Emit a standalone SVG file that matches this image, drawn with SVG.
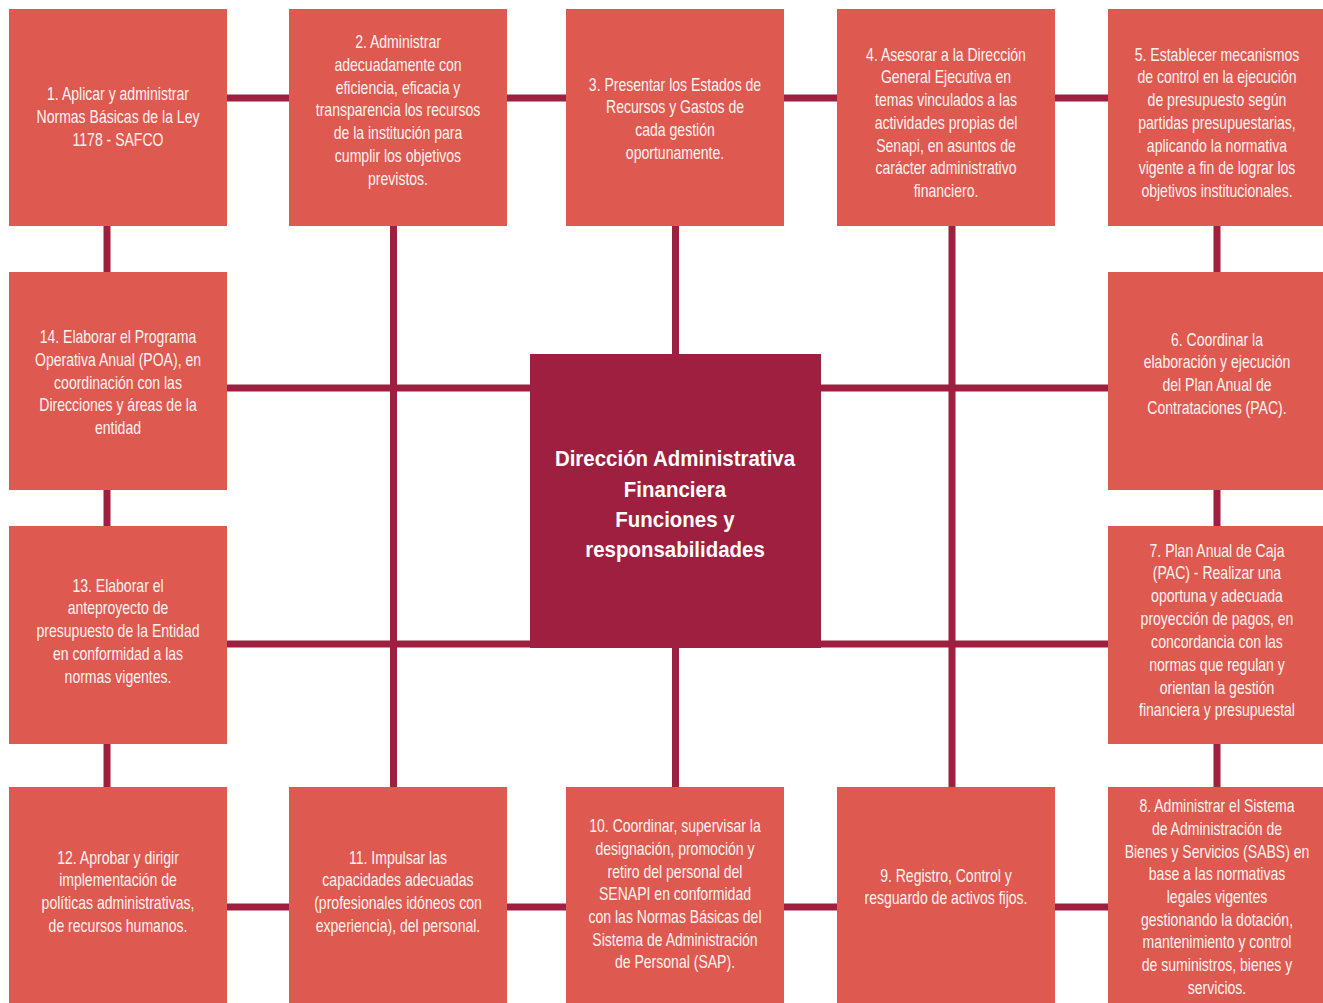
<svg xmlns="http://www.w3.org/2000/svg" width="1323" height="1003" viewBox="0 0 1323 1003">
<style>
.box{fill:#DE5950}
.center{fill:#9E1F3F}
.t{font-family:"Liberation Sans",Arial,sans-serif;font-size:18px;fill:#FFF3F0;text-anchor:middle}
.tc{font-family:"Liberation Sans",Arial,sans-serif;font-size:22px;font-weight:bold;fill:#FFFFFF;text-anchor:middle}
.c{stroke:#9E1F3F;fill:none}
.h{stroke-width:7}
.v{stroke-width:7}
</style>
<rect width="1323" height="1003" fill="#FFFFFF"/>
<g id="connectors" class="c">
<path class="h" d="M227 98H289M507 98H566M784 98H837M1055 98H1108"/>
<path class="h" d="M227 907H289M507 907H566M784 907H837M1055 907H1108"/>
<path class="h" stroke-width="8" d="M227 388H530M821 388H1114"/>
<path class="h" stroke-width="8" d="M227 644H530M821 644H1114"/>
<path class="v" d="M107 225V272M107 490V527M107 743V787"/>
<path class="v" d="M1217 225V272M1217 490V527M1217 743V787"/>
<path class="v" d="M393.5 225V787"/>
<path class="v" d="M675.5 225V354M675.5 648V787"/>
<path class="v" d="M952 225V787"/>
</g>
<g id="n1"><rect class="box" x="9" y="9" width="218" height="217"/>
<text class="t" transform="translate(118 0) scale(0.78 1)"><tspan x="0" y="100">1. Aplicar y administrar</tspan><tspan x="0" y="123">Normas Básicas de la Ley</tspan><tspan x="0" y="146">1178 - SAFCO</tspan></text></g>
<g id="n2"><rect class="box" x="289" y="9" width="218" height="217"/>
<text class="t" transform="translate(398 0) scale(0.78 1)"><tspan x="0" y="48">2. Administrar</tspan><tspan x="0" y="71">adecuadamente con</tspan><tspan x="0" y="94">eficiencia, eficacia y</tspan><tspan x="0" y="116">transparencia los recursos</tspan><tspan x="0" y="139">de la institución para</tspan><tspan x="0" y="162">cumplir los objetivos</tspan><tspan x="0" y="185">previstos.</tspan></text></g>
<g id="n3"><rect class="box" x="566" y="9" width="218" height="217"/>
<text class="t" transform="translate(675 0) scale(0.78 1)"><tspan x="0" y="91">3. Presentar los Estados de</tspan><tspan x="0" y="113">Recursos y Gastos de</tspan><tspan x="0" y="136">cada gestión</tspan><tspan x="0" y="159">oportunamente.</tspan></text></g>
<g id="n4"><rect class="box" x="837" y="9" width="218" height="217"/>
<text class="t" transform="translate(946 0) scale(0.78 1)"><tspan x="0" y="61">4. Asesorar a la Dirección</tspan><tspan x="0" y="83">General Ejecutiva en</tspan><tspan x="0" y="106">temas vinculados a las</tspan><tspan x="0" y="129">actividades propias del</tspan><tspan x="0" y="152">Senapi, en asuntos de</tspan><tspan x="0" y="174">carácter administrativo</tspan><tspan x="0" y="197">financiero.</tspan></text></g>
<g id="n5"><rect class="box" x="1108" y="9" width="215" height="217"/>
<text class="t" transform="translate(1217 0) scale(0.78 1)"><tspan x="0" y="61">5. Establecer mecanismos</tspan><tspan x="0" y="83">de control en la ejecución</tspan><tspan x="0" y="106">de presupuesto según</tspan><tspan x="0" y="129">partidas presupuestarias,</tspan><tspan x="0" y="152">aplicando la normativa</tspan><tspan x="0" y="174">vigente a fin de lograr los</tspan><tspan x="0" y="197">objetivos institucionales.</tspan></text></g>
<g id="n6"><rect class="box" x="1108" y="272" width="215" height="218"/>
<text class="t" transform="translate(1217 0) scale(0.78 1)"><tspan x="0" y="346">6. Coordinar la</tspan><tspan x="0" y="368">elaboración y ejecución</tspan><tspan x="0" y="391">del Plan Anual de</tspan><tspan x="0" y="414">Contrataciones (PAC).</tspan></text></g>
<g id="n7"><rect class="box" x="1108" y="526" width="215" height="218"/>
<text class="t" transform="translate(1217 0) scale(0.78 1)"><tspan x="0" y="557">7. Plan Anual de Caja</tspan><tspan x="0" y="579">(PAC) - Realizar una</tspan><tspan x="0" y="602">oportuna y adecuada</tspan><tspan x="0" y="625">proyección de pagos, en</tspan><tspan x="0" y="648">concordancia con las</tspan><tspan x="0" y="671">normas que regulan y</tspan><tspan x="0" y="694">orientan la gestión</tspan><tspan x="0" y="716">financiera y presupuestal</tspan></text></g>
<g id="n8"><rect class="box" x="1108" y="787" width="215" height="216"/>
<text class="t" transform="translate(1217 0) scale(0.78 1)"><tspan x="0" y="812">8. Administrar el Sistema</tspan><tspan x="0" y="835">de Administración de</tspan><tspan x="0" y="858">Bienes y Servicios (SABS) en</tspan><tspan x="0" y="880">base a las normativas</tspan><tspan x="0" y="903">legales vigentes</tspan><tspan x="0" y="926">gestionando la dotación,</tspan><tspan x="0" y="948">mantenimiento y control</tspan><tspan x="0" y="971">de suministros, bienes y</tspan><tspan x="0" y="994">servicios.</tspan></text></g>
<g id="n9"><rect class="box" x="837" y="787" width="218" height="216"/>
<text class="t" transform="translate(946 0) scale(0.78 1)"><tspan x="0" y="882">9. Registro, Control y</tspan><tspan x="0" y="904">resguardo de activos fijos.</tspan></text></g>
<g id="n10"><rect class="box" x="566" y="787" width="218" height="216"/>
<text class="t" transform="translate(675 0) scale(0.78 1)"><tspan x="0" y="832">10. Coordinar, supervisar la</tspan><tspan x="0" y="855">designación, promoción y</tspan><tspan x="0" y="878">retiro del personal del</tspan><tspan x="0" y="900">SENAPI en conformidad</tspan><tspan x="0" y="923">con las Normas Básicas del</tspan><tspan x="0" y="946">Sistema de Administración</tspan><tspan x="0" y="968">de Personal (SAP).</tspan></text></g>
<g id="n11"><rect class="box" x="289" y="787" width="218" height="216"/>
<text class="t" transform="translate(398 0) scale(0.78 1)"><tspan x="0" y="864">11. Impulsar las</tspan><tspan x="0" y="886">capacidades adecuadas</tspan><tspan x="0" y="909">(profesionales idóneos con</tspan><tspan x="0" y="932">experiencia), del personal.</tspan></text></g>
<g id="n12"><rect class="box" x="9" y="787" width="218" height="216"/>
<text class="t" transform="translate(118 0) scale(0.78 1)"><tspan x="0" y="864">12. Aprobar y dirigir</tspan><tspan x="0" y="886">implementación de</tspan><tspan x="0" y="909">políticas administrativas,</tspan><tspan x="0" y="932">de recursos humanos.</tspan></text></g>
<g id="n13"><rect class="box" x="9" y="526" width="218" height="218"/>
<text class="t" transform="translate(118 0) scale(0.78 1)"><tspan x="0" y="592">13. Elaborar el</tspan><tspan x="0" y="614">anteproyecto de</tspan><tspan x="0" y="637">presupuesto de la Entidad</tspan><tspan x="0" y="660">en conformidad a las</tspan><tspan x="0" y="683">normas vigentes.</tspan></text></g>
<g id="n14"><rect class="box" x="9" y="272" width="218" height="218"/>
<text class="t" transform="translate(118 0) scale(0.78 1)"><tspan x="0" y="343">14. Elaborar el Programa</tspan><tspan x="0" y="366">Operativa Anual (POA), en</tspan><tspan x="0" y="389">coordinación con las</tspan><tspan x="0" y="411">Direcciones y áreas de la</tspan><tspan x="0" y="434">entidad</tspan></text></g>
<g id="center"><rect class="center" x="530" y="354" width="291" height="294"/>
<text class="tc" transform="translate(675 0) scale(0.93 1)"><tspan x="0" y="466">Dirección Administrativa</tspan><tspan x="0" y="497">Financiera</tspan><tspan x="0" y="527">Funciones y</tspan><tspan x="0" y="557">responsabilidades</tspan></text></g>
</svg>
